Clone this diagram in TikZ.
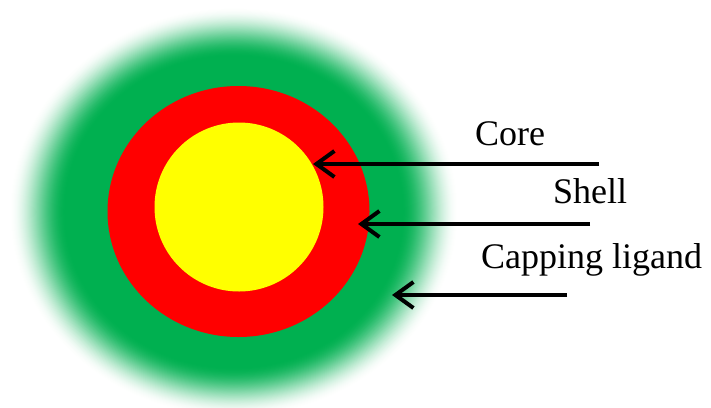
\documentclass[tikz,border=0pt]{standalone}
\usepackage{fontspec}
\setmainfont{Liberation Serif}
\usetikzlibrary{arrows.meta,shapes.geometric}
\definecolor{glow}{RGB}{0,176,80}
\definecolor{shellred}{RGB}{255,0,0}
\definecolor{coreyellow}{RGB}{255,255,0}
\tikzset{
  lbl/.style={anchor=base west, inner sep=0pt, font=\fontsize{36}{40}\selectfont},
  pointer/.style={line width=4pt, -{Straight Barb[length=18pt, width=26pt, line width=4pt]}},
}
\begin{document}
\begin{tikzpicture}[x=1pt,y=-1pt]
\useasboundingbox (0,0) rectangle (711,407);
\fill[white] (0,0) rectangle (711,407);
% soft green glow (capping ligand)
\foreach \i in {0,...,56}{
  \pgfmathsetmacro{\rx}{168+57*(56-\i)/56}
  \pgfmathsetmacro{\ry}{155+50*(56-\i)/56}
  \pgfmathsetmacro{\t}{\i/56}
  \pgfmathsetmacro{\p}{100*\t*\t*(3-2*\t)}
  \fill[glow!\p!white] (234,212) ellipse [x radius=\rx, y radius=\ry];
}
\fill[glow] (234,212) ellipse [x radius=168, y radius=155];
\node[ellipse, fill=shellred, minimum width=262pt, minimum height=251pt, inner sep=0pt, draw=none] (shell) at (238.5,211.5) {};
\node[circle, fill=coreyellow, minimum size=169pt, inner sep=0pt] (core) at (239,207) {};
% labels
\node[lbl] (tcore) at (475,145) {Core};
\node[lbl] (tshell) at (553,203) {Shell};
\node[lbl] (tcap) at (481,268) {Capping ligand};
% arrows
\coordinate (c1) at (599,164);
\coordinate (c2) at (313,164);
\coordinate (s1) at (590,224);
\coordinate (s2) at (358,224);
\coordinate (g1) at (567,295);
\coordinate (g2) at (392,295);
\draw[pointer] (c1) -- (c2);
\draw[pointer] (s1) -- (s2);
\draw[pointer] (g1) -- (g2);
\end{tikzpicture}
\end{document}
